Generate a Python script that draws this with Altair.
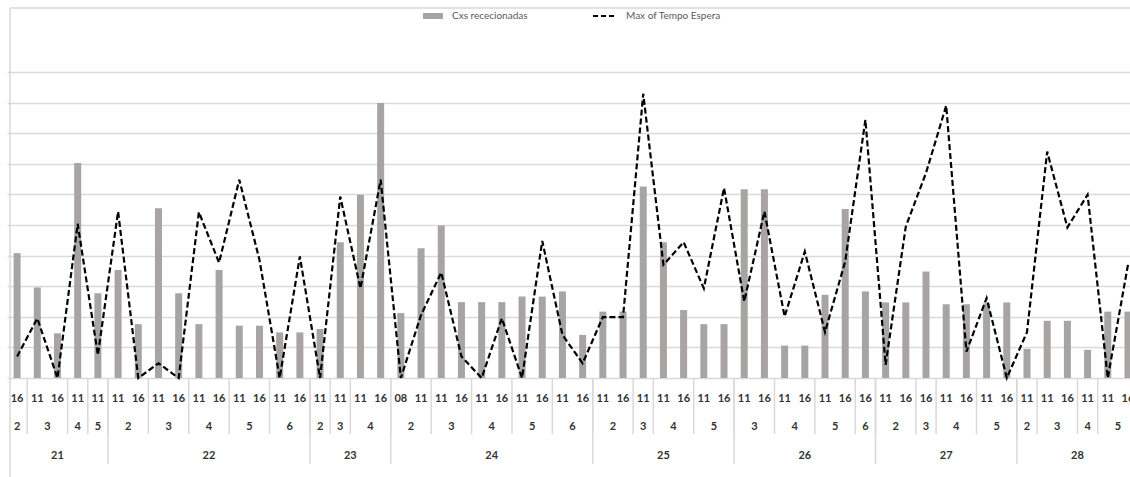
import altair as alt
import pandas as pd

# Hierarchy of the x axis: week -> sub-period -> hour of sampling
weeks = ["21", "22", "23", "24", "25", "26", "27", "28"]
periods = [
    [("2", ["16"]), ("3", ["11", "16"]), ("4", ["11"]), ("5", ["11"])],
    [("2", ["11", "16"]), ("3", ["11", "16"]), ("4", ["11", "16"]), ("5", ["11", "16"]), ("6", ["11", "16"])],
    [("2", ["11"]), ("3", ["11"]), ("4", ["11", "16"])],
    [("2", ["08", "11"]), ("3", ["11", "16"]), ("4", ["11", "16"]), ("5", ["11", "16"]), ("6", ["11", "16"])],
    [("2", ["11", "16"]), ("3", ["11"]), ("4", ["11", "16"]), ("5", ["11", "16"])],
    [("3", ["11", "16"]), ("4", ["11", "16"]), ("5", ["11", "16"]), ("6", ["16"])],
    [("2", ["11", "16"]), ("3", ["16"]), ("4", ["11", "16"]), ("5", ["11", "16"])],
    [("2", ["11"]), ("3", ["11", "16"]), ("4", ["11"]), ("5", ["11", "16"])],
]

# Cxs rececionadas (bars)
caixas = [
    4.08, 2.96, 1.46, 7.03, 2.77,
    3.53, 1.76, 5.55, 2.77, 1.76, 3.53, 1.71, 1.71, 1.49, 1.49,
    1.60, 4.44, 5.99, 8.99,
    2.12, 4.24, 4.98, 2.48, 2.48, 2.48, 2.66, 2.66, 2.83, 1.41,
    2.17, 2.17, 6.26, 4.44, 2.22, 1.76, 1.76,
    6.17, 6.17, 1.06, 1.06, 2.72, 5.52, 2.83,
    2.47, 2.47, 3.48, 2.41, 2.41, 2.44, 2.47,
    0.95, 1.87, 1.87, 0.92, 2.17, 2.17,
]

# Max of Tempo Espera (dashed line)
tempo = [
    0.70, 1.95, 0.00, 5.04, 0.75,
    5.44, 0.00, 0.48, 0.00, 5.42, 3.77, 6.48, 3.86, 0.00, 3.97,
    0.00, 5.93, 2.93, 6.48,
    0.00, 2.06, 3.45, 0.70, 0.00, 1.95, 0.00, 4.48, 1.41, 0.48,
    1.99, 1.99, 9.29, 3.70, 4.44, 2.93, 6.21,
    2.50, 5.44, 2.01, 4.13, 1.50, 3.81, 8.44,
    0.43, 4.95, 6.70, 8.90, 0.86, 2.61, 0.00,
    1.50, 7.40, 4.92, 5.99, 0.00, 3.70,
]

# Flatten the hierarchy into one row per category
rows, sub_rows, week_rows = [], [], []
i = 0
for wk, subs in zip(weeks, periods):
    w_start = i
    for sub, hours in subs:
        s_start = i
        for h in hours:
            rows.append({"pos": i + 0.5, "hora": h, "caixas": caixas[i], "tempo": tempo[i]})
            i += 1
        sub_rows.append({"mid": (s_start + i) / 2, "start": s_start, "label": sub})
    week_rows.append({"mid": (w_start + i) / 2, "start": w_start, "label": wk})

df = pd.DataFrame(rows)
subs_df = pd.DataFrame(sub_rows)
weeks_df = pd.DataFrame(week_rows)
sub_edges = subs_df[subs_df["start"] > 0]
week_edges = weeks_df[weeks_df["start"] > 0]

FONT = "Lato"
GRID = "#d9d9d9"
BAR = "#a8a4a4"
TXT = "#333333"

xs = alt.Scale(domain=[0, 55.6], nice=False, zero=False, padding=0)
ys = alt.Scale(domain=[0, 10], nice=False, zero=True)
yaxis = alt.Axis(values=list(range(11)), grid=True, labels=False, ticks=False,
                 domain=False, gridColor=GRID, gridWidth=1.5, title=None)

base = alt.Chart(df)

bars = base.mark_bar(size=7, color=BAR).encode(
    x=alt.X("pos:Q", scale=xs, axis=None),
    y=alt.Y("caixas:Q", scale=ys, axis=yaxis),
)

line = base.mark_line(color="black", strokeDash=[6, 3], strokeWidth=2.2).encode(
    x=alt.X("pos:Q", scale=xs, axis=None),
    y=alt.Y("tempo:Q", scale=ys, axis=yaxis),
)

hour_text = base.mark_text(font=FONT, fontSize=11, fontWeight="bold", color=TXT,
                           baseline="middle").encode(
    x=alt.X("pos:Q", scale=xs, axis=None),
    y=alt.value(327),
    text="hora:N",
)

sub_text = alt.Chart(subs_df).mark_text(font=FONT, fontSize=11, fontWeight="bold",
                                        color=TXT, baseline="middle").encode(
    x=alt.X("mid:Q", scale=xs, axis=None),
    y=alt.value(355),
    text="label:N",
)

week_text = alt.Chart(weeks_df).mark_text(font=FONT, fontSize=11, fontWeight="bold",
                                          color=TXT, baseline="middle").encode(
    x=alt.X("mid:Q", scale=xs, axis=None),
    y=alt.value(384),
    text="label:N",
)

sub_lines = alt.Chart(sub_edges).mark_rule(color=GRID, strokeWidth=1.5).encode(
    x=alt.X("start:Q", scale=xs, axis=None),
    y=alt.value(306),
    y2=alt.value(362),
)

week_lines = alt.Chart(week_edges).mark_rule(color=GRID, strokeWidth=1.5).encode(
    x=alt.X("start:Q", scale=xs, axis=None),
    y=alt.value(306),
    y2=alt.value(392),
)

one = pd.DataFrame({"k": [0]})

# Outer frame: top edge and left edge
frame_top = alt.Chart(one).mark_rule(color=GRID, strokeWidth=1.5).encode(
    x=alt.value(3), x2=alt.value(1130), y=alt.value(-64)
)
frame_left = alt.Chart(one).mark_rule(color=GRID, strokeWidth=1.5).encode(
    x=alt.value(3), y=alt.value(-64), y2=alt.value(410)
)

# Legend row
leg_bar = alt.Chart(one).mark_rect(color=BAR).encode(
    x=alt.value(416), x2=alt.value(436), y=alt.value(-59), y2=alt.value(-53)
)
leg_bar_txt = alt.Chart(one).mark_text(font=FONT, fontSize=10, color="#595959",
                                       align="left", baseline="middle").encode(
    x=alt.value(445), y=alt.value(-56), text=alt.value("Cxs rececionadas")
)
leg_line = alt.Chart(one).mark_rule(color="black", strokeDash=[5, 3], strokeWidth=2).encode(
    x=alt.value(586), x2=alt.value(610), y=alt.value(-56)
)
leg_line_txt = alt.Chart(one).mark_text(font=FONT, fontSize=10, color="#595959",
                                        align="left", baseline="middle").encode(
    x=alt.value(619), y=alt.value(-56), text=alt.value("Max of Tempo Espera")
)

chart = alt.layer(
    frame_top, frame_left, sub_lines, week_lines,
    bars, line,
    hour_text, sub_text, week_text,
    leg_bar, leg_bar_txt, leg_line, leg_line_txt,
).properties(
    width=1123,
    height=306,
    autosize="none",
    padding={"left": 7, "top": 72, "right": 0, "bottom": 99},
    background="white",
).configure_view(strokeWidth=0)

chart.save("out.html", embed_options={"renderer": "svg", "actions": False})
